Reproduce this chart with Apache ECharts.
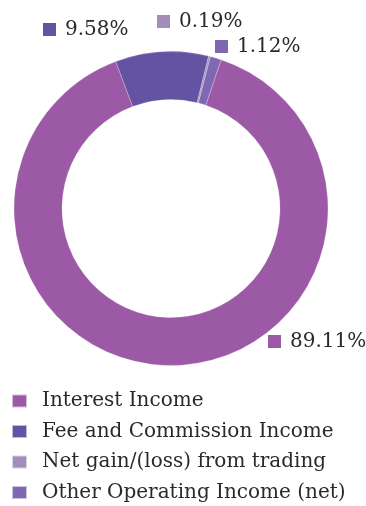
<!DOCTYPE html>
<html>
<head>
<meta charset="utf-8">
<script src="https://cdn.jsdelivr.net/npm/echarts@6/dist/echarts.min.js"></script>
<style>
html,body{margin:0;padding:0;background:#fff;}
#c{width:366px;height:506px;}
</style>
</head>
<body>
<div id="c"></div>
<script>
const categories = ['Interest Income', 'Fee and Commission Income', 'Net gain/(loss) from trading', 'Other Operating Income (net)'];
const shares = [89.11, 9.58, 0.19, 1.12];
const colors = ['#9B59A6', '#6453A2', '#A48DBA', '#7F68B3'];

// label anchor (left of square, vertical middle) per slice
const labelSpots = [[268, 341.5], [43, 29.5], [157, 21.5], [215, 46.5]];

const FONT = 'DejaVu Serif';
const chart = echarts.init(document.getElementById('c'), null, {renderer: 'canvas'});

const rich = {};
categories.forEach((c, i) => {
  rich['s' + i] = {width: 13, height: 13, backgroundColor: colors[i]};
});
rich.t = {fontFamily: FONT, fontSize: 20, color: '#2a2a2a', padding: [0, 0, 0, 9]};

chart.setOption({
  animation: false,
  color: colors,
  legend: {
    orient: 'vertical',
    left: 11,
    top: 391,
    height: 115,
    padding: 0,
    itemWidth: 15,
    itemHeight: 13,
    itemGap: 10.5,
    icon: 'rect',
    textStyle: {fontFamily: FONT, fontSize: 20, color: '#2a2a2a', padding: [0, 0, 0, 10]},
    data: categories
  },
  series: [{
    type: 'pie',
    center: [171, 208.5],
    radius: [109, 157],
    startAngle: 71.4,
    clockwise: true,
    silent: true,
    itemStyle: {borderColor: 'rgba(255,255,255,0.6)', borderWidth: 0.4},
    label: {
      show: true,
      position: 'outside',
      overflow: 'none',
      alignTo: 'none',
      formatter: p => '{s' + p.dataIndex + '|}{t|' + p.value.toFixed(2) + '%}',
      rich: rich
    },
    labelLine: {show: false},
    labelLayout: p => ({
      x: labelSpots[p.dataIndex][0],
      y: labelSpots[p.dataIndex][1],
      align: 'left',
      verticalAlign: 'middle'
    }),
    data: categories.map((c, i) => ({name: c, value: shares[i]}))
  }]
});
</script>
</body>
</html>
